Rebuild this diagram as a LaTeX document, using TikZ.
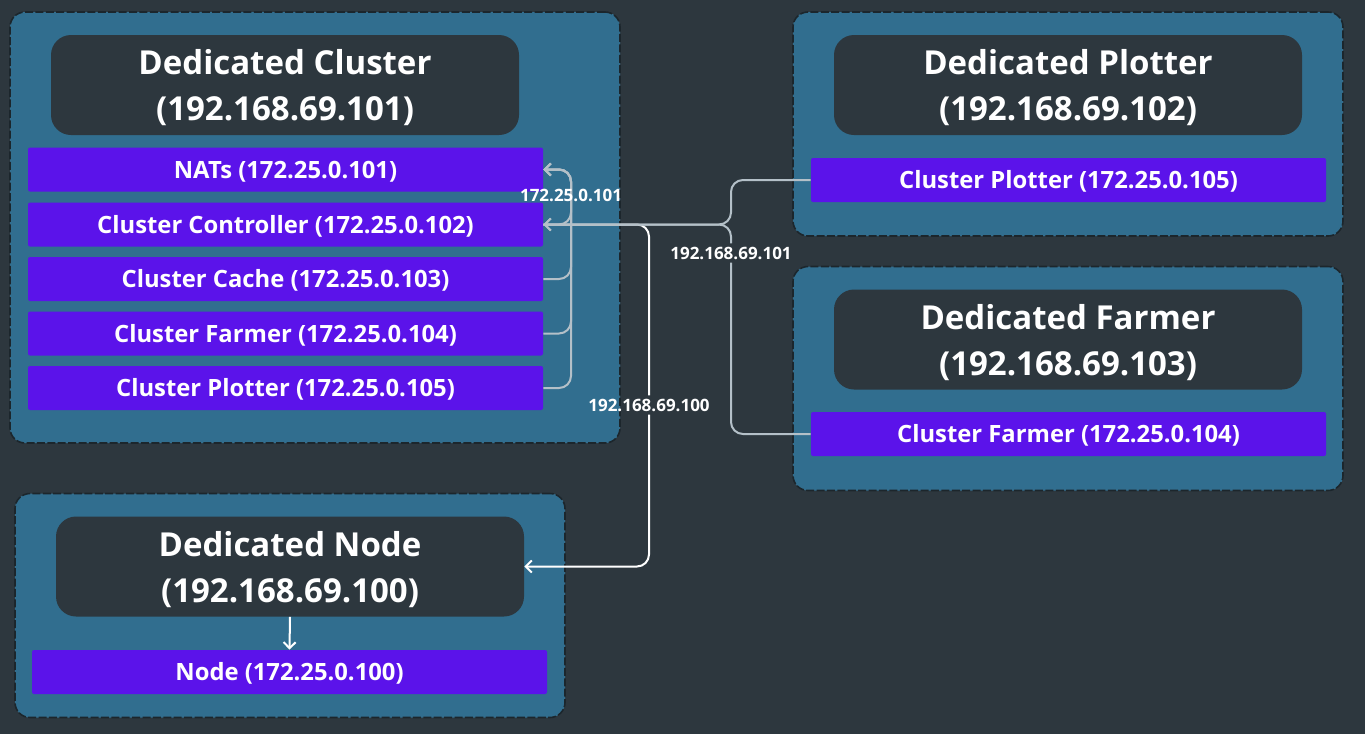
\documentclass[tikz,border=0pt]{standalone}
\usepackage{fontspec}
\setmainfont{Open Sans}
\usetikzlibrary{arrows.meta}
\definecolor{bg}{HTML}{2D373E}
\definecolor{hostblue}{HTML}{316E8F}
\definecolor{svcpurple}{HTML}{5B13EA}
\definecolor{linkgray}{HTML}{B4C0C8}
\definecolor{rim}{HTML}{1C262C}

\begin{document}
\begin{tikzpicture}[x=0.5pt,y=-0.5pt,
  host/.style={draw=rim,line width=0.8pt,dash pattern=on 4pt off 1.2pt,fill=hostblue,rounded corners=7.5pt,minimum width=275pt,minimum height=112pt},
  head/.style={fill=bg,rounded corners=10pt,minimum width=234pt,minimum height=50pt,align=center,text depth=-2pt,text=white,font=\bfseries\fontsize{16.5}{23}\selectfont},
  svc/.style={fill=svcpurple,rounded corners=1pt,minimum width=257.5pt,minimum height=22pt,text height=8.6pt,text depth=0pt,text=white,font=\bfseries\fontsize{11.9}{13}\selectfont},
  link/.style={linkgray,line width=1pt,rounded corners=6pt},
  tip/.style={-{Straight Barb[length=3pt,width=6pt]}},
  tag/.style={text=white,inner sep=1.5pt,font=\bfseries\fontsize{8.5}{10}\selectfont}]
\fill [bg] (0,0) rectangle (1365,734);

% hosts
\node (cluster) at ( 315,227.5) [host,minimum width=305pt,minimum height=215.5pt] {};
\node (plotter) at (1068,124)   [host] {};
\node (farmer)  at (1068,378.5) [host] {};
\node (dnode)   at ( 290,605.5) [host] {};

% headers
\node (chead) at ( 285, 85)   [head] {Dedicated Cluster\\(192.168.69.101)};
\node (phead) at (1068, 85)   [head] {Dedicated Plotter\\(192.168.69.102)};
\node (fhead) at (1068,339.5) [head] {Dedicated Farmer\\(192.168.69.103)};
\node (nhead) at ( 290,566.5) [head] {Dedicated Node\\(192.168.69.100)};

% services
\node (nats)  at ( 285.5,169.5) [svc] {NATs (172.25.0.101)};
\node (ctrl)  at ( 285.5,224.5) [svc] {Cluster Controller (172.25.0.102)};
\node (cache) at ( 285.5,279)   [svc] {Cluster Cache (172.25.0.103)};
\node (cfarm) at ( 285.5,333.5) [svc] {Cluster Farmer (172.25.0.104)};
\node (cplot) at ( 285.5,388)   [svc] {Cluster Plotter (172.25.0.105)};
\node (pplot) at (1068.5,180)   [svc] {Cluster Plotter (172.25.0.105)};
\node (ffarm) at (1068.5,434)   [svc] {Cluster Farmer (172.25.0.104)};
\node (nsvc)  at ( 289.5,672)   [svc] {Node (172.25.0.100)};

\coordinate (bus) at (571,169.5);
\coordinate (hub) at (731,224.5);

% labels on the outer links
\node (taghub)  at (731,253) [tag] {192.168.69.101};
\node (tagdrop) at (649,405) [tag] {192.168.69.100};

% links
\draw [link,white] (ctrl.east) -| (tagdrop.north);
\draw [link,white,tip] (tagdrop.south) |- (nhead.east);
\draw [link,tip] (pplot.west) -| (hub) -- (ctrl.east);
\draw [link] (ffarm.west) -| (taghub.south);
\draw [link,tip] (taghub.north) |- (ctrl.east);
\draw [link,tip] (ctrl.east)  -| (bus) -- (nats.east);
\draw [link,tip] (cache.east) -| (bus) -- (nats.east);
\draw [link,tip] (cfarm.east) -| (bus) -- (nats.east);
\draw [link,tip] (cplot.east) -| (bus) -- (nats.east);
\draw [link,white,tip] (nhead.south) -- (nsvc.north);

\node (tagbus) at (571,195) [tag] {172.25.0.101};
\end{tikzpicture}
\end{document}
